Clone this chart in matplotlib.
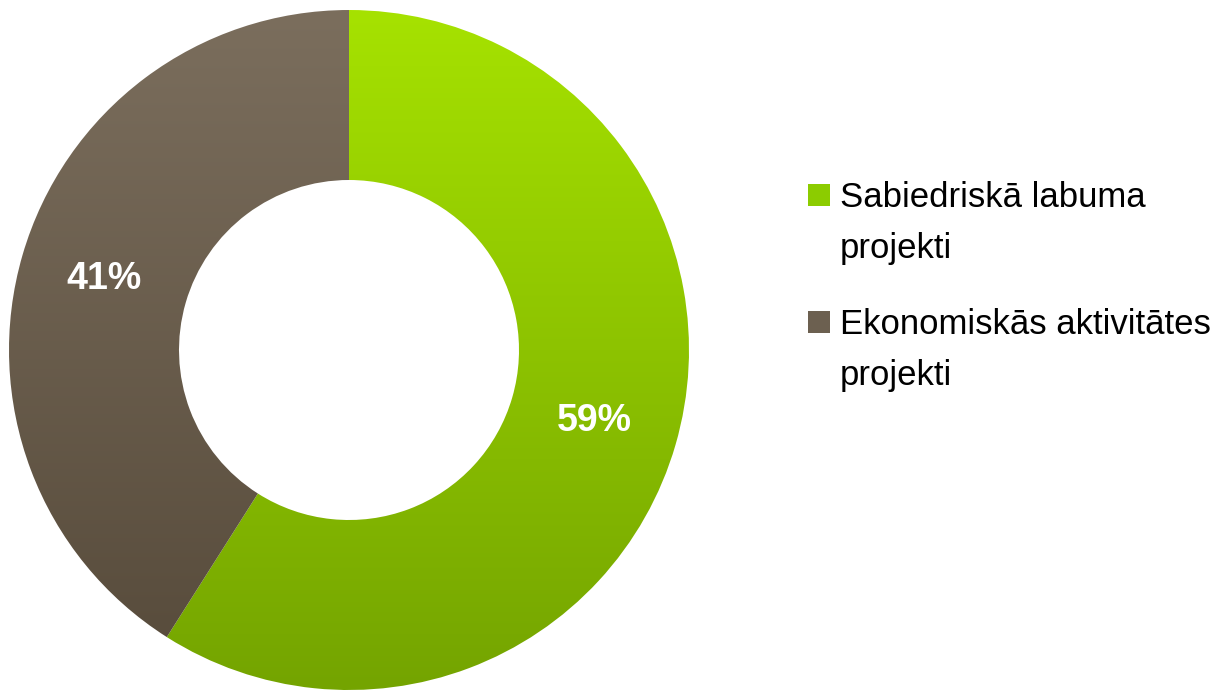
import numpy as np
import matplotlib
matplotlib.use("Agg")
import matplotlib.pyplot as plt
from matplotlib.patches import Rectangle

plt.rcParams['font.family'] = ['Liberation Sans', 'DejaVu Sans']

# data
labels = ["Sabiedriskā labuma\nprojekti", "Ekonomiskās aktivitātes\nprojekti"]
values = [59, 41]
top_colors = ["#a6e200", "#7b6e5d"]
bottom_colors = ["#74a400", "#564a3a"]
legend_colors = ["#8ccc00", "#6c6050"]

W, H = 1217, 690
fig = plt.figure(figsize=(W / 100, H / 100), dpi=100)
ax = fig.add_axes([9 / W, 0 / H, 680 / W, 680 / H])

wedges, texts, autotexts = ax.pie(
    values, startangle=90, counterclock=False,
    autopct=lambda p: '%d%%' % round(p), pctdistance=0.75,
    wedgeprops=dict(width=0.5, linewidth=0),
    colors=legend_colors,
    textprops=dict(color='white', fontsize=27, fontweight='bold'))

# vertical gradient fill clipped to each wedge
grad = np.linspace(0, 1, 256).reshape(-1, 1)
for w, c1, c2 in zip(wedges, top_colors, bottom_colors):
    a = np.array(matplotlib.colors.to_rgb(c1))
    b = np.array(matplotlib.colors.to_rgb(c2))
    img = a[None, None, :] * (1 - grad[:, :, None]) + b[None, None, :] * grad[:, :, None]
    im = ax.imshow(img, extent=[-1, 1, -1, 1], origin='upper', zorder=1, aspect='auto')
    im.set_clip_path(w)
    w.set_facecolor('none')

for t in autotexts:
    t.set_zorder(5)

ax.set_xlim(-1, 1)
ax.set_ylim(-1, 1)
ax.set_aspect('equal')
ax.axis('off')

# legend drawn by hand: square marker next to first line of each label
for i, (lab, c) in enumerate(zip(labels, legend_colors)):
    y_first = 195 + i * 127  # pixel centre of first line, from top
    fig.patches.append(Rectangle((808 / W, 1 - (y_first + 11) / H), 22 / W, 22 / H,
                                 transform=fig.transFigure, facecolor=c, edgecolor='none'))
    fig.text(840 / W, 1 - (y_first + 28) / H, lab, fontsize=25, va='center', ha='left',
             linespacing=1.67, color='black')

fig.savefig("out.png", dpi=100)
